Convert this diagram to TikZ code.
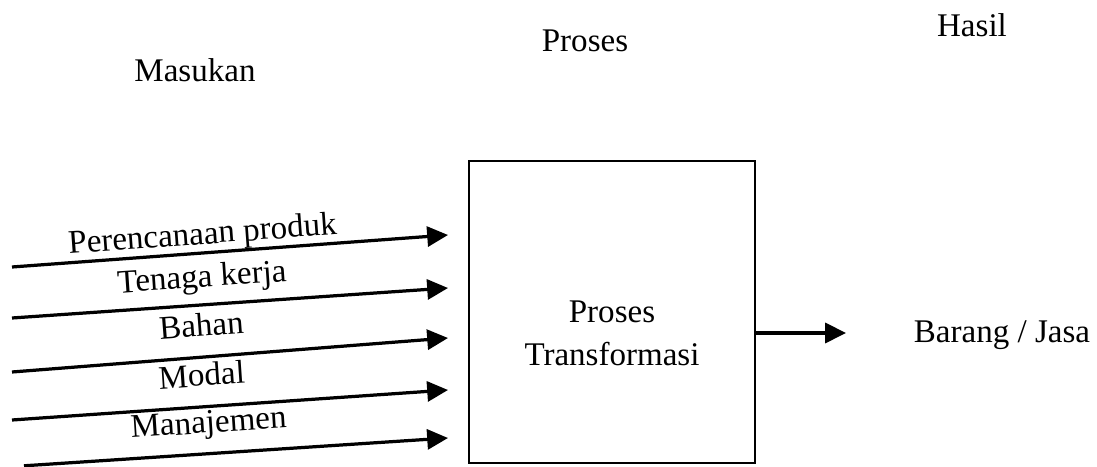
\documentclass[tikz,border=0pt]{standalone}
\usepackage{fontspec}
\setmainfont{Liberation Serif}
\usetikzlibrary{arrows.meta}
\newcommand{\tipx}[0] {11.2}

\begin{document}
\begin{tikzpicture}[
        every node/.style={font=\fontsize{23.5}{30}\selectfont},
        arr/.style={-{Triangle[length=0.52cm,width=0.5cm]}, line width=2.3pt},
        lbl/.style={sloped, pos=0.44, anchor=base, inner sep=0pt, yshift=#1},
        lbl/.default=0.52cm]
        \useasboundingbox (0,0) rectangle (27.425,11.675);

        \node[anchor=base] (masukan) at (4.875,9.625) {Masukan};
        \node[anchor=base] (proses) at (14.625,10.375) {Proses};
        \node[anchor=base] (hasil) at (24.3,10.75) {Hasil};

        \node[draw=black,line width=2pt,minimum width=7.15cm,minimum height=7.55cm] (trans) at (15.3,3.875) {};
        \node[align=center] (transtext) at (15.3,3.34) {Proses\\Transformasi};
        \node[anchor=base] (barang) at (25.05,3.1) {Barang / Jasa};

        \coordinate (a1) at (0.3,5.0);    \coordinate (b1) at (\tipx,5.8);
        \coordinate (a2) at (0.3,3.725);  \coordinate (b2) at (\tipx,4.475);
        \coordinate (a3) at (0.3,2.375);  \coordinate (b3) at (\tipx,3.225);
        \coordinate (a4) at (0.3,1.175);  \coordinate (b4) at (\tipx,1.925);
        \coordinate (a5) at (0.6,0.03);   \coordinate (b5) at (\tipx,0.725);
        \coordinate (c) at (21.15,3.35);

        %inputs with text
        \draw[arr] (a1) -- node[lbl=0.22cm]{Perencanaan produk} (b1);
        \draw[arr] (a2) -- node[lbl=0.44cm]{Tenaga kerja} (b2);
        \draw[arr] (a3) -- node[lbl]{Bahan} (b3);
        \draw[arr] (a4) -- node[lbl]{Modal} (b4);
        \draw[arr] (a5) -- node[lbl]{Manajemen} (b5);

        %output
        \draw[arr] (trans.east |- c) -- (c);
\end{tikzpicture}
\end{document}
